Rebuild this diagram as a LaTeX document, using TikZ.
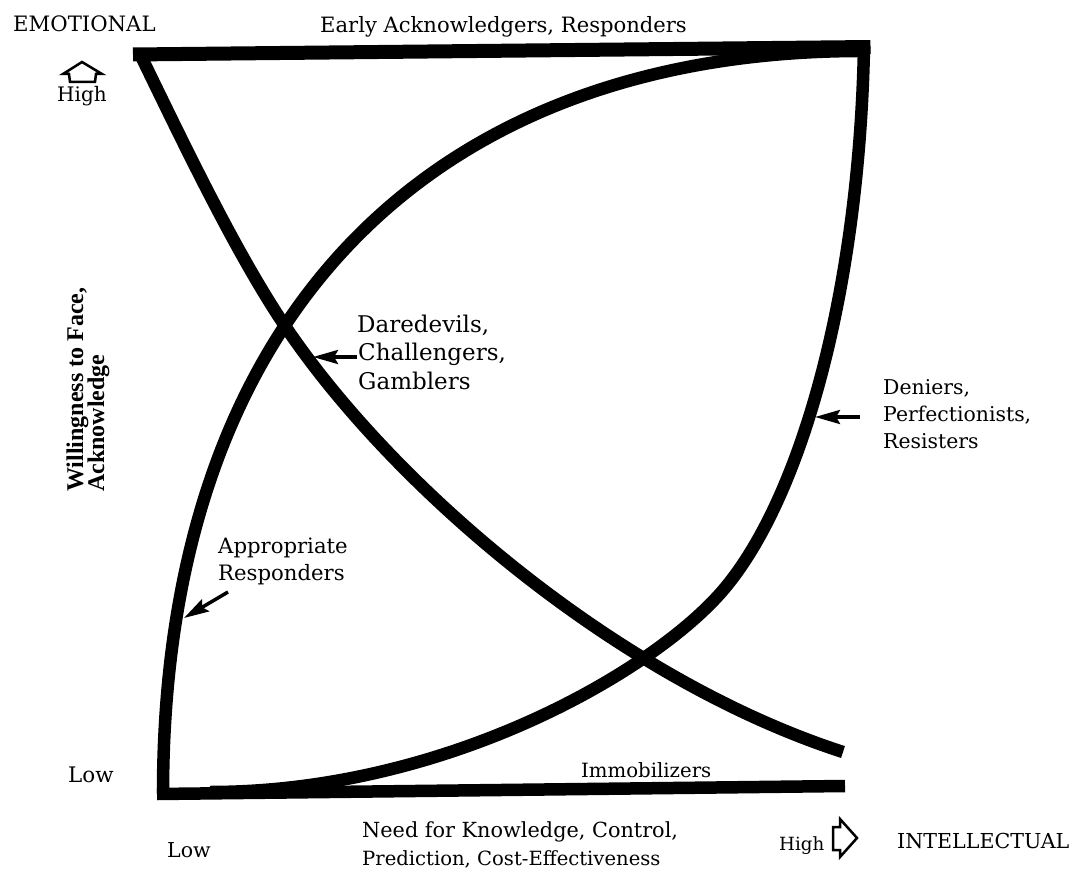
\documentclass[tikz,border=0pt]{standalone}
\usepackage{fontspec}
\setmainfont{DejaVu Serif}
\newfontfamily\wfont{Liberation Serif}
\usetikzlibrary{arrows.meta}
\newcommand\fsz[1]{\fontsize{#1}{#1}\selectfont}
\begin{document}
\begin{tikzpicture}[x=1pt,y=-1pt,
  curve/.style={line width=12.5pt, line join=round, line cap=butt},
  lbl/.style={inner sep=0pt, anchor=base west, font=\fsz{20}},
  wlbl/.style={inner sep=0pt, anchor=base west, rotate=90, font=\wfont\bfseries\fsz{24}},
  pointer/.style={line width=3.5pt, -{Stealth[length=25pt,width=14pt,inset=4pt]}},
  outline/.style={line width=2.5pt, line join=miter}]
\useasboundingbox (0,0) rectangle (1076,874);
\fill[white] (0,0) rectangle (1076,874);

% top and bottom lines
\draw[curve, line width=14pt] (133,54.5) -- (870.5,47);
\draw[curve] (157,794) -- (845,786);
% Daredevils curve
\draw[curve] (140,54) .. controls (180,136) and (233,248) .. (283,323)
  .. controls (393,488) and (620,680) .. (843,752);
% Deniers curve
\draw[curve] (864,47) .. controls (859,297) and (798.5,509) .. (717,597)
  .. controls (642.3,677.7) and (440,792) .. (210,792);
% Appropriate Responders curve
\draw[curve] (163,794) .. controls (163,314) and (432,51) .. (862,51);

% axis labels
\node[lbl, font=\fsz{21.2}] (emo) at (13,32) {EMOTIONAL};
\node[lbl, font=\fsz{21.1}] (early) at (320,33) {Early Acknowledgers, Responders};
\draw[outline] (82,62) -- (102,74) -- (96,74) -- (95,82) -- (70,82) -- (69,74) -- (63,74) -- cycle;
\node[lbl, anchor=base] (hightop) at (82,102) {High};
\node[wlbl] (will1) at (83,492) {Willingness to Face,};
\node[wlbl] (will2) at (104,492) {Acknowledge};
\node[lbl, font=\fsz{21.4}] (lowleft) at (68,782) {Low};
\node[lbl, font=\fsz{20.5}] (lowbot) at (167,857) {Low};
\node[lbl, font=\fsz{20.8}] (need1) at (362,837) {Need for Knowledge, Control,};
\node[lbl, font=\fsz{19.6}] (need2) at (362,865) {Prediction, Cost-Effectiveness};
\node[lbl, font=\fsz{18.2}] (highright) at (779,850) {High};
\draw[outline] (833,827) -- (840,827) -- (840,819) -- (857,838) -- (840,857) -- (840,850) -- (833,850) -- cycle;
\node[lbl, font=\fsz{20.6}] (intel) at (897,848) {INTELLECTUAL};

% region labels
\node[lbl, font=\fsz{23}] (dare1) at (357,333) {Daredevils,};
\node[lbl, font=\fsz{23}] (dare2) at (358,361) {Challengers,};
\node[lbl, font=\fsz{23}] (dare3) at (358,389) {Gamblers};
\coordinate (dareTail) at (357,357);
\coordinate (dareTip) at (313,357);
\draw[pointer] (dareTail) -- (dareTip);

\node[lbl, font=\fsz{20.4}] (den1) at (883,395) {Deniers,};
\node[lbl, font=\fsz{20.4}] (den2) at (883,421) {Perfectionists,};
\node[lbl, font=\fsz{20.4}] (den3) at (883,448) {Resisters};
\coordinate (denTail) at (860,417);
\coordinate (denTip) at (815,417);
\draw[pointer] (denTail) -- (denTip);

\node[lbl, font=\fsz{21.2}] (app1) at (218,553) {Appropriate};
\node[lbl, font=\fsz{21.2}] (app2) at (218,580) {Responders};
\coordinate (appTail) at (228,592);
\coordinate (appTip) at (184,618);
\draw[pointer] (appTail) -- (appTip);

\node[lbl, font=\fsz{19.7}] (immo) at (581,777) {Immobilizers};
\end{tikzpicture}
\end{document}
